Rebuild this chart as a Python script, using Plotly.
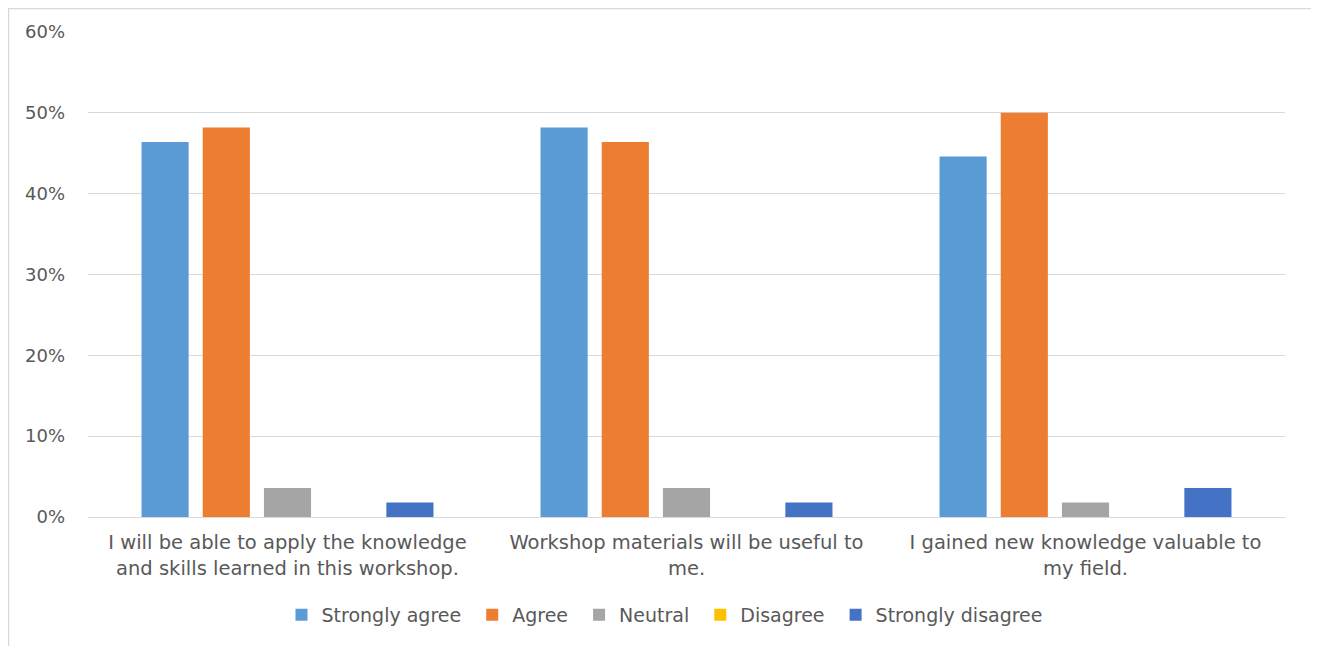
import plotly.graph_objects as go

categories = [
    "I will be able to apply the knowledge<br>and skills learned in this workshop.",
    "Workshop materials will be useful to<br>me.",
    "I gained new knowledge valuable to<br>my field.",
]
series_names = ["Strongly agree", "Agree", "Neutral", "Disagree", "Strongly disagree"]
strongly_agree = [0.464, 0.482, 0.446]
agree = [0.482, 0.464, 0.500]
neutral = [0.036, 0.036, 0.018]
disagree = [0.0, 0.0, 0.0]
strongly_disagree = [0.018, 0.018, 0.036]
colors = ["#5B9BD5", "#ED7D31", "#A5A5A5", "#FFC000", "#4472C4"]

values = [strongly_agree, agree, neutral, disagree, strongly_disagree]

fig = go.Figure()
for i, (name, vals, col) in enumerate(zip(series_names, values, colors)):
    label = name + ("\u00a0" if i < len(series_names) - 1 else "")
    fig.add_trace(go.Bar(x=categories, y=vals, name=label, marker=dict(color=col, line=dict(width=0))))

# page body has an 8px margin, so the figure is sized/offset to compensate
W, H = 1311, 638
L, R, T, B = 80, 34, 24, 129
pw, ph = W - L - R, H - T - B

font_family = "DejaVu Sans, Verdana, sans-serif"
fig.update_layout(
    width=W, height=H,
    paper_bgcolor="white", plot_bgcolor="white",
    margin=dict(l=L, r=R, t=T, b=B, autoexpand=False),
    barmode="group", bargap=0.233, bargroupgap=0.23,
    font=dict(family=font_family, size=19, color="#595959"),
    showlegend=True,
    legend=dict(orientation="h", x=(657 - L) / pw, xanchor="center",
                y=(H - B - 607) / ph, yanchor="middle",
                font=dict(size=19, color="#595959"), itemclick=False),
    xaxis=dict(showgrid=False, showline=True, linecolor="#D9D9D9", linewidth=1,
               tickfont=dict(size=19.5, color="#595959"), ticks="", ticklabelstandoff=8),
    yaxis=dict(range=[0, 0.6], dtick=0.1, tickformat=".0%", showgrid=True, gridcolor="#D9D9D9",
               gridwidth=1, zeroline=False, showline=False, ticks="",
               tickfont=dict(size=18, color="#595959"), ticklabelstandoff=22),
    shapes=[dict(type="rect", xref="paper", yref="paper",
                 x0=(0.5 - L) / pw, x1=(1308 - L) / pw,
                 y0=(H - B - (H + 20)) / ph, y1=(H - B - 0.5) / ph,
                 line=dict(color="#D9D9D9", width=1.5), fillcolor="rgba(0,0,0,0)", layer="below")],
)

fig.write_html("out.html")
